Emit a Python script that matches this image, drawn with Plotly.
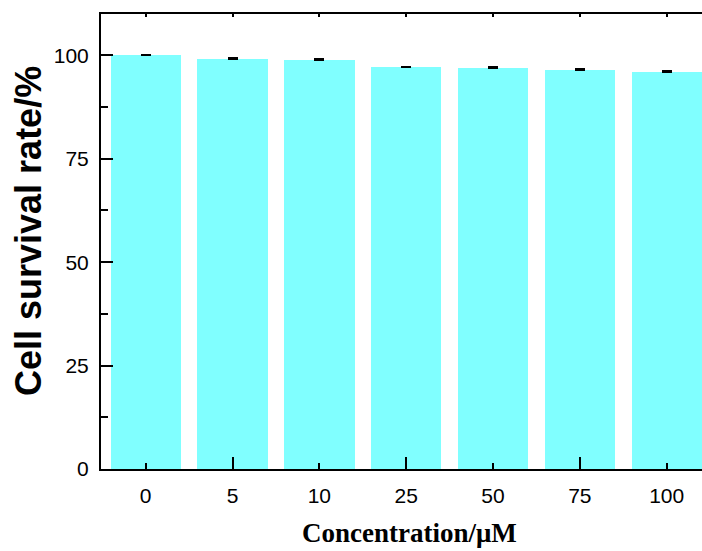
import plotly.graph_objects as go

categories = ["0", "5", "10", "25", "50", "75", "100"]
survival = [100.0, 99.1, 98.9, 97.1, 96.95, 96.5, 96.0]
errors = [0.15, 0.15, 0.15, 0.15, 0.2, 0.2, 0.2]
y_ticks = [0, 25, 50, 75, 100]

idx = list(range(len(categories)))

fig = go.Figure()
fig.add_trace(go.Bar(
    x=idx, y=survival, width=0.81,
    marker=dict(color="#80FFFF", line=dict(width=0)),
    error_y=dict(type="data", array=errors, arrayminus=[0] * len(errors),
                 symmetric=False, color="black", thickness=2, width=5),
    showlegend=False,
))
# invisible traces to activate overlay axes
fig.add_trace(go.Scatter(x=[idx[0]], y=[0], xaxis="x2", yaxis="y", mode="markers",
                         marker=dict(opacity=0), showlegend=False, hoverinfo="skip"))
fig.add_trace(go.Scatter(x=[idx[0]], y=[0], xaxis="x3", yaxis="y", mode="markers",
                         marker=dict(opacity=0), showlegend=False, hoverinfo="skip"))

xr = [-0.515, 6.407]
tickfont = dict(family="Liberation Sans, Arial", size=21, color="black")

fig.update_layout(
    width=702, height=551,
    margin=dict(l=101, r=0, t=14, b=82),
    plot_bgcolor="white", paper_bgcolor="white",
    bargap=0,
    xaxis=dict(range=xr, tickmode="array", tickvals=idx, ticktext=categories,
               ticks="inside", ticklen=6, tickwidth=2, tickcolor="black",
               showline=True, linewidth=2, linecolor="black",
               showgrid=False, zeroline=False, tickfont=tickfont,
               ticklabelstandoff=7),
    xaxis2=dict(range=xr, overlaying="x", anchor="y", side="bottom",
                tickmode="array", tickvals=[1, 3, 5], ticks="inside", ticklen=12,
                tickwidth=2, tickcolor="black", showticklabels=False,
                showline=False, showgrid=False, zeroline=False),
    xaxis3=dict(range=xr, overlaying="x", anchor="y", side="top",
                tickmode="array", tickvals=idx, ticks="inside", ticklen=3,
                tickwidth=2, tickcolor="black", showticklabels=False,
                showline=True, linewidth=2, linecolor="black",
                showgrid=False, zeroline=False),
    yaxis=dict(range=[0, 110], tickmode="array", tickvals=y_ticks,
               ticks="inside", ticklen=12, tickwidth=2, tickcolor="black",
               minor=dict(dtick=12.5, tick0=0, ticks="inside", ticklen=7,
                          tickwidth=2, tickcolor="black"),
               showline=True, linewidth=2, linecolor="black",
               showgrid=False, zeroline=False, tickfont=tickfont,
               ticklabelstandoff=6),
    annotations=[
        dict(text="Cell survival rate/%", xref="paper", yref="paper",
             x=-0.1215, y=0.523, xanchor="center", yanchor="middle",
             textangle=-90, showarrow=False,
             font=dict(family="Liberation Sans, Arial", size=36, color="black", weight="bold")),
        dict(text="Concentration/μM", xref="paper", yref="paper",
             x=0.5125, y=-0.1407, xanchor="center", yanchor="middle",
             showarrow=False,
             font=dict(family="Liberation Serif, Times New Roman", size=27, color="black", weight="bold")),
    ],
)

fig.write_html("out.html")
